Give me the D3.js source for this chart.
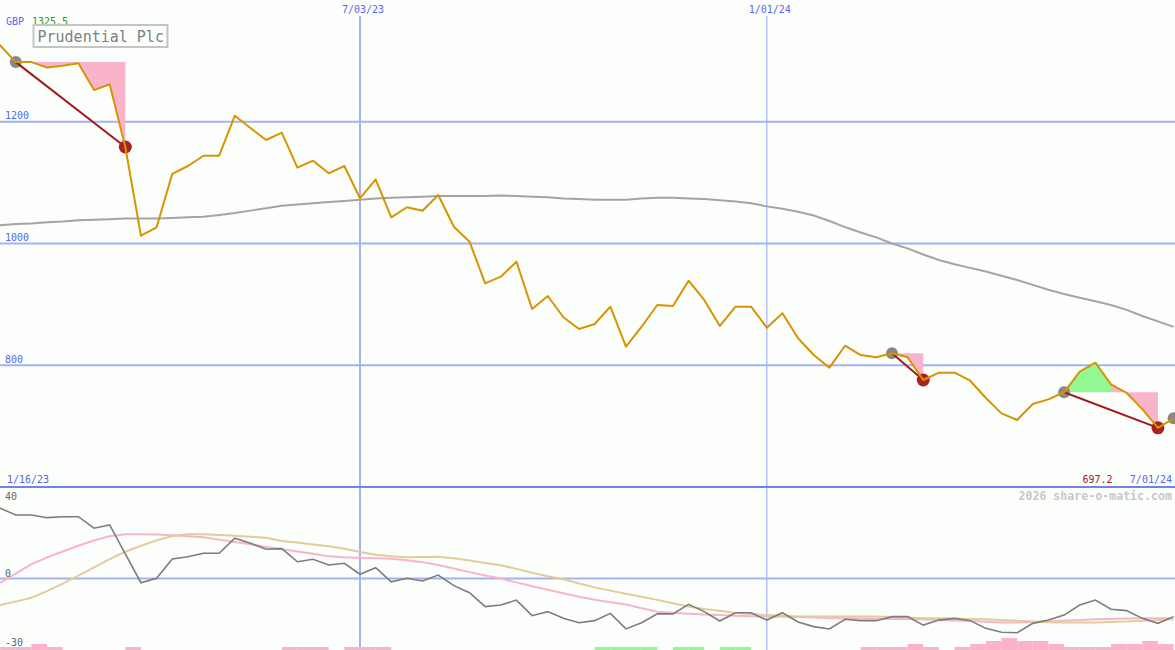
<!DOCTYPE html>
<html><head><meta charset="utf-8">
<script src="https://cdn.jsdelivr.net/npm/d3@7"></script>
<style>
html,body{margin:0;padding:0;background:#fcfefc;}
svg{display:block;}
text{font-family:"DejaVu Sans Mono","Liberation Mono",monospace;}
</style></head><body>
<svg id="chart" width="1175" height="650"></svg>
<script>
// ---------- DATA ----------
const dates = [
 "2023-01-16","2023-01-23","2023-01-30","2023-02-06","2023-02-13","2023-02-20","2023-02-27","2023-03-06","2023-03-13","2023-03-20",
 "2023-03-27","2023-04-03","2023-04-10","2023-04-17","2023-04-24","2023-05-01","2023-05-08","2023-05-15","2023-05-22","2023-05-29",
 "2023-06-05","2023-06-12","2023-06-19","2023-06-26","2023-07-03","2023-07-10","2023-07-17","2023-07-24","2023-07-31","2023-08-07",
 "2023-08-14","2023-08-21","2023-08-28","2023-09-04","2023-09-11","2023-09-18","2023-09-25","2023-10-02","2023-10-09","2023-10-16",
 "2023-10-23","2023-10-30","2023-11-06","2023-11-13","2023-11-20","2023-11-27","2023-12-04","2023-12-11","2023-12-18","2023-12-25",
 "2024-01-01","2024-01-08","2024-01-15","2024-01-22","2024-01-29","2024-02-05","2024-02-12","2024-02-19","2024-02-26","2024-03-04",
 "2024-03-11","2024-03-18","2024-03-25","2024-04-01","2024-04-08","2024-04-15","2024-04-22","2024-04-29","2024-05-06","2024-05-13",
 "2024-05-20","2024-05-27","2024-06-03","2024-06-10","2024-06-17","2024-06-24","2024-07-01"];

const price = [
 1318,1325.5,1298,1298,1289,1292,1296,1252,1261.5,1158.5,
 1012.8,1026.6,1114.2,1127.3,1144.2,1144.2,1209.9,1189.7,1170,1182,
 1124.5,1136,1115.3,1127.3,1074.3,1105.5,1043,1059.5,1053.9,1079.7,
 1027.6,1003,934.6,945.5,970.1,892.4,913.8,878.8,859.5,867.8,
 896.2,830.5,863.3,899,897.3,938.9,907.2,864.5,896.2,896.2,
 861.7,885.3,844.3,816.8,796,832.1,816.8,813,819.6,813,
 775.8,787.8,787.8,774.6,746.2,721,710.1,736.3,744,755.6,
 789.4,804.2,768.7,754.5,728,697.2,712.9];

const movingAvg = [
 1028,1030,1032,1033,1035,1036,1038,1039,1040,1041,
 1041,1041,1042,1043,1044,1047,1050,1054,1058,1062,
 1064,1066,1068,1070,1072,1074,1075,1076,1077,1078,
 1078,1078,1078,1079,1078,1077,1076,1074,1073,1072,
 1072,1072,1074,1075,1075,1074,1073,1071,1069,1066,
 1061,1057,1052,1046,1037,1027,1018,1010,1000,992,
 982,973,966,960,954,947,940,932,924,917,
 911,905,899,891,881,872,863];

const momentum = [
 38.7,36.5,33,33,31.6,32.1,32.1,26.1,27.8,12.8,
 -2.2,0.1,10.1,11.3,13.1,13.1,20.9,18.3,15.2,15.5,
 8.7,10,7,7.9,2.2,5.6,-1.7,0.1,-1.3,1.8,
 -3.7,-7.4,-14.6,-13.8,-11.2,-19.3,-17.2,-20.7,-23,-21.9,
 -18.1,-26.2,-23,-18.4,-18.4,-13.4,-17.2,-22.1,-17.8,-17.8,
 -21.6,-17.8,-22.6,-25,-26.2,-21.2,-21.9,-21.9,-19.8,-19.8,
 -24.2,-21.6,-20.7,-21.9,-25.9,-27.9,-28.2,-23.3,-21.6,-19,
 -13.8,-11.2,-16,-16.7,-20.7,-23.3,-19.8];

const signalAvg = [
 -5,-2.2,2.5,7.5,11,14,17,19.7,22,23,
 23,22.8,22.5,22,21.4,20.2,19,17.8,16.4,15.2,
 14,12.8,11.5,11,10.7,10.5,10.2,9.5,8.5,7,
 5.2,3.3,1.6,0,-2,-4,-5.8,-7.7,-9.5,-11,
 -12.3,-13.5,-15.5,-17.3,-17.8,-18.3,-18.7,-19,-19.4,-19.6,
 -19.8,-19.9,-20,-20.3,-20.6,-20.7,-20.8,-20.9,-21,-21,
 -21.2,-21.5,-21.8,-22.1,-22.5,-22.9,-22.9,-22.6,-22.4,-22,
 -21.6,-21.2,-21,-20.8,-20.6,-20.6,-20.6];

const slowAvg = [
 -16,-13.8,-12,-10,-6.6,-2.7,1.5,5.8,10.1,13.9,
 17,19.8,22.1,23,23,22.6,22.2,21.7,21.2,19.5,
 18.7,17.7,16.8,15.5,13.8,12.3,11.5,11.1,11.2,11.3,
 10.5,9.3,8.1,6.9,5,3,1.2,-0.4,-2.6,-4.6,
 -6.3,-7.9,-9.5,-11.1,-12.9,-14.5,-15.9,-16.8,-17.9,-18.5,
 -19,-19.4,-19.7,-19.8,-19.8,-19.8,-19.8,-19.8,-20,-20.3,
 -20.6,-20.7,-20.8,-21,-21.2,-21.6,-22,-22.4,-22.7,-22.9,
 -22.9,-22.8,-22.6,-22.4,-22,-21.5,-21];

// weekly histogram: negative = pink, positive = green
const histogram = [
 -1,-1,-1,-2,-1,0,0,0,0,-1,
 0,0,0,0,0,0,0,0,0,-1,
 -1,-1,0,-1,-1,-1,0,0,0,0,
 0,0,0,0,0,0,0,0,0,1,
 1,1,1,0,1,1,0,1,1,0,
 0,0,0,0,0,0,-1,-1,-1,-2,
 -1,0,-1,-2,-3,-4,-3,-3,-2,-1,
 -1,-1,-2,-2,-3,-2,0];

const signals = [{start:2,end:9},{start:58,end:60},{start:69,end:75}];
const openSignals = [76];

const priceTicks = [1200,1000,800];
const dateTicks = ["2023-07-03","2024-01-01"];
const dateTickLabels = ["7/03/23","1/01/24"];
const indicatorTicks = [40,0,-30];
const indicatorTickLabels = ["40","0","-30"];
const title = "Prudential Plc";
const currency = "GBP";
const maxLabel = "1325.5";
const minLabel = "697.2";
const startLabel = "1/16/23";
const endLabel = "7/01/24";
const watermark = "2026 share-o-matic.com";

// ---------- DRAW ----------
(function(){
const W = 1175, H = 650;
const parse = d3.utcParse("%Y-%m-%d");
const D = dates.map(parse);
const x = d3.scaleUtc().domain([parse("2023-07-03"), parse("2024-07-01")]).range([360, 1173.6]);
const y = d3.scaleLinear().domain([600, 1400]).range([487, 0]);
const yi = d3.scaleLinear().domain([0, 40]).range([578.5, 501.5]);
const yb = d3.scaleLinear().domain([0, 4]).range([650, 638]);

const svg = d3.select("#chart");
const defs = svg.append("defs");
defs.append("clipPath").attr("id","cTop").append("rect").attr("x",0).attr("y",0).attr("width",W).attr("height",487);
defs.append("clipPath").attr("id","cBot").append("rect").attr("x",0).attr("y",487).attr("width",W).attr("height",H-487);

svg.append("rect").attr("width",W).attr("height",H).attr("fill","#fcfefc");

const gridBlue = "#a4b2f4", textBlue = "#5566ee";

// horizontal price grid
svg.selectAll(".hg").data(priceTicks).join("line")
  .attr("x1",0).attr("x2",W).attr("y1",d=>y(d)).attr("y2",d=>y(d))
  .attr("stroke",gridBlue).attr("stroke-width",2);
svg.selectAll(".hgl").data(priceTicks).join("text")
  .attr("x",5).attr("y",d=>y(d)-2.5).attr("font-size",10).attr("fill",textBlue).text(d=>d);

// indicator zero line
svg.append("line").attr("x1",0).attr("x2",W).attr("y1",yi(0)).attr("y2",yi(0))
  .attr("stroke",gridBlue).attr("stroke-width",2);

// vertical date grid
svg.selectAll(".vg").data(dateTicks).join("line")
  .attr("x1",d=>x(parse(d))).attr("x2",d=>x(parse(d))).attr("y1",16).attr("y2",H)
  .attr("stroke",gridBlue).attr("stroke-width",(d,i)=>i===0?2:1.2);
svg.selectAll(".vgl").data(dateTicks).join("text")
  .attr("x",d=>x(parse(d))+3).attr("y",13).attr("text-anchor","middle")
  .attr("font-size",10).attr("fill",textBlue).text((d,i)=>dateTickLabels[i]);

// panel divider
svg.append("line").attr("x1",0).attr("x2",W).attr("y1",487).attr("y2",487)
  .attr("stroke","#7282ea").attr("stroke-width",2.2);

// ---- top panel ----
const topG = svg.append("g").attr("clip-path","url(#cTop)");
const pts = price.map((v,i)=>({date:D[i], v}));

topG.append("path").datum(movingAvg.map((v,i)=>({date:D[i], v})))
  .attr("d", d3.line().x(d=>x(d.date)).y(d=>y(d.v)))
  .attr("fill","none").attr("stroke","#a4a4a4").attr("stroke-width",2);

// signal fills
signals.forEach(s=>{
  const level = price[s.start];
  let runs = [];
  for (let i=s.start;i<s.end;i++){
    const up = price[i+1] >= level;
    if (runs.length && runs[runs.length-1].up===up) runs[runs.length-1].end=i+1;
    else runs.push({up, start:i, end:i+1});
  }
  runs.forEach(r=>{
    topG.append("path").datum(pts.slice(r.start, r.end+1))
      .attr("d", d3.area().x(d=>x(d.date)).y0(y(level)).y1(d=>y(d.v)))
      .attr("fill", r.up ? "#92f892" : "#fab4ca");
  });
});

// signal markers + lines
signals.forEach(s=>{
  topG.append("circle").attr("cx",x(D[s.start])).attr("cy",y(price[s.start])).attr("r",6).attr("fill","#888888");
});
openSignals.forEach(i=>{
  topG.append("circle").attr("cx",x(D[i])).attr("cy",y(price[i])).attr("r",6).attr("fill","#888888");
});
signals.forEach(s=>{
  topG.append("circle").attr("cx",x(D[s.end])).attr("cy",y(price[s.end])).attr("r",6.5).attr("fill","#a82222");
  topG.append("line").attr("x1",x(D[s.start])).attr("y1",y(price[s.start]))
    .attr("x2",x(D[s.end])).attr("y2",y(price[s.end]))
    .attr("stroke","#a01c1c").attr("stroke-width",2);
});

topG.append("path").datum(pts)
  .attr("d", d3.line().x(d=>x(d.date)).y(d=>y(d.v)))
  .attr("fill","none").attr("stroke","#d89400").attr("stroke-width",2).attr("stroke-linejoin","round");

// ---- bottom panel ----
const botG = svg.append("g").attr("clip-path","url(#cBot)");
const step = x(D[1]) - x(D[0]);
botG.selectAll(".bar").data(histogram.map((h,i)=>({h,i})).filter(d=>d.h!==0)).join("rect")
  .attr("x",d=>x(D[d.i]))
  .attr("width",d=> d.i+1<D.length ? x(D[d.i+1])-x(D[d.i]) : step)
  .attr("y",d=>yb(Math.abs(d.h)))
  .attr("height",d=>H - yb(Math.abs(d.h)))
  .attr("fill",d=>d.h>0?"#92f892":"#fab4ca");

const iline = d3.line().x((d,i)=>x(D[i])).y(d=>yi(d));
botG.append("path").datum(signalAvg).attr("d",iline).attr("fill","none").attr("stroke","#f8b4ca").attr("stroke-width",2);
botG.append("path").datum(slowAvg).attr("d",iline).attr("fill","none").attr("stroke","#e2cc9c").attr("stroke-width",2);
botG.append("path").datum(momentum).attr("d",iline).attr("fill","none").attr("stroke","#7c7c7c").attr("stroke-width",1.6);

// indicator labels
const iLabelY = [499.5, 577, 646];
svg.selectAll(".il").data(indicatorTicks).join("text")
  .attr("x",5).attr("y",(d,i)=>iLabelY[i]).attr("font-size",10).attr("fill","#666666")
  .text((d,i)=>indicatorTickLabels[i]);

// header texts
svg.append("text").attr("x",6).attr("y",24.5).attr("font-size",10).attr("fill",textBlue).text(currency);
svg.append("text").attr("x",32).attr("y",24.5).attr("font-size",10).attr("fill","#22a022").text(maxLabel);
svg.append("rect").attr("x",33.5).attr("y",25).attr("width",134).attr("height",22)
  .attr("fill","#fcfefc").attr("stroke","#c4c4c4").attr("stroke-width",2);
svg.append("text").attr("x",37.5).attr("y",41.5).attr("font-size",15).attr("fill","#808080").text(title);

// bottom axis labels
svg.append("text").attr("x",7).attr("y",483).attr("font-size",10).attr("fill",textBlue).text(startLabel);
svg.append("text").attr("x",1112.5).attr("y",483).attr("text-anchor","end").attr("font-size",10).attr("fill","#a01c1c").text(minLabel);
svg.append("text").attr("x",1172).attr("y",483).attr("text-anchor","end").attr("font-size",10).attr("fill",textBlue).text(endLabel);
svg.append("text").attr("x",1172).attr("y",500).attr("text-anchor","end").attr("font-size",11.6)
  .attr("font-weight","bold").attr("fill","#c8c8c8").text(watermark);
})();
</script>
</body></html>
